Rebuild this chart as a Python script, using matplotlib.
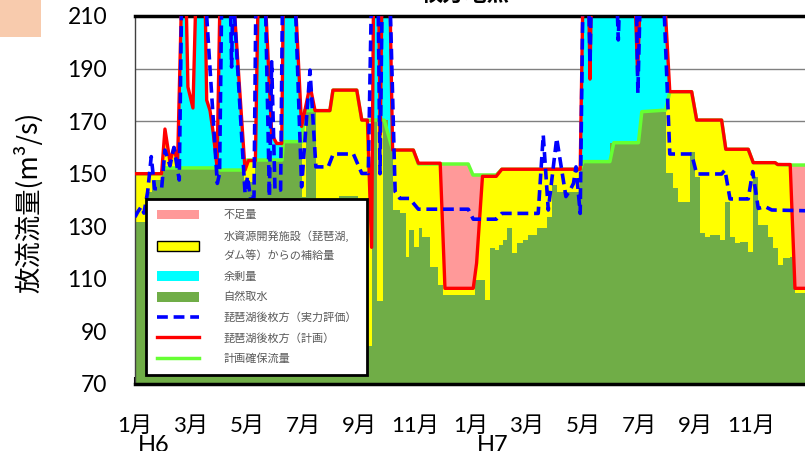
import numpy as np
import matplotlib.pyplot as plt
from matplotlib.patches import Patch, Rectangle
from matplotlib.lines import Line2D

plt.rcParams['font.family'] = ['Lato', 'Noto Sans CJK JP']

# x = months since 1 Jan H6
plan_x = [0, 0.95, 1.07, 1.25, 1.39, 1.52, 1.67, 1.82, 1.89, 2.07, 2.18, 2.5, 2.56, 2.68, 2.8, 2.93,
          3.04, 3.5, 3.93, 4.05, 4.3, 4.4, 4.64, 4.88, 5.06, 5.24, 5.3, 5.71, 5.95, 6.25, 6.43, 6.96,
          7.07, 7.92, 8.1, 8.3, 8.45, 8.52, 8.7, 8.76, 8.82, 9.1, 9.2, 9.94, 10.12, 10.9, 11.07,
          12.08, 12.2, 12.41, 12.9, 13.1, 15.9, 16.0, 16.2, 16.25, 16.3, 17.85, 17.95, 18.05, 18.9,
          19.1, 19.88, 20.06, 20.95, 21.1, 21.9, 22.08, 22.86, 22.95, 23.4, 23.57, 24]
plan_v = [150, 150, 167, 154.5, 160, 154, 220, 220, 183, 175, 220, 220, 178, 174, 165, 152.5,
          220, 220, 151.4, 155, 155, 220, 220, 165, 161.5, 161.5, 220, 220, 168, 183.5, 174, 174,
          181.8, 181.8, 170.4, 170.4, 122, 220, 220, 165, 220, 220, 159, 159, 154, 154, 106.4,
          106.4, 116, 149, 149, 151.7, 151.7, 220, 220, 186, 220, 220, 188, 220, 220,
          181.2, 181.2, 170.4, 170.4, 159.3, 159.3, 154.2, 154.2, 153.5, 153.5, 106.4, 106.4]

actual_x = [0, 0.1, 0.22, 0.32, 0.45, 0.58, 0.7, 0.95, 1.07, 1.25, 1.39, 1.58, 1.67, 2.5, 2.94, 3.02,
            3.1, 3.4, 3.45, 3.5, 3.93, 4.02, 4.12, 4.25, 4.32, 4.65, 4.8, 4.88, 5.0, 5.2, 5.27, 5.71,
            5.95, 6.25, 6.46, 6.9, 7.08, 7.8, 8.1, 8.33, 8.45, 8.68, 8.75, 8.83, 9.1, 9.29, 9.46, 9.8,
            10.12, 11.9, 12.08, 12.9, 13.1, 14.4, 14.58, 14.76, 15.06, 15.39, 15.55, 15.66, 15.75,
            15.9, 16.0, 16.2, 16.25, 16.3, 17.2, 17.26, 17.32, 17.9, 17.96, 18.05, 18.87, 19.1,
            19.88, 20.06, 20.95, 21.07, 21.25, 21.9, 22.06, 22.26, 22.5, 22.74, 24]
actual_v = [133.5, 135.5, 137.4, 135, 143, 156.5, 144.3, 144.3, 159, 153, 160, 147.6, 220, 220, 146.3, 150,
            220, 220, 190.6, 220, 142.6, 149, 141, 141, 220, 220, 141.3, 192.6, 143.8, 143.8, 220, 220,
            145, 189.4, 152.6, 152.6, 157.5, 157.5, 150.1, 150.1, 220, 220, 150, 220, 220, 143.2, 140.6, 140.6,
            136.5, 136.5, 132.7, 132.7, 134.9, 134.9, 164.7, 136.2, 163.5, 141.3, 144, 146.3, 152.6,
            134.9, 220, 220, 192, 220, 220, 200.9, 220, 220, 180.6, 220, 220, 157.5,
            157.5, 149.9, 149.9, 151.4, 140.4, 140.4, 150.8, 136.8, 137.5, 136.2, 135.9]

secured_x = [0, 0.95, 1.0, 3.0, 3.05, 3.9, 4.0, 5.25, 5.3, 5.96, 6.05, 6.43, 6.96, 7.07, 7.92, 8.1,
             8.9, 9.2, 9.94, 10.12, 11.9, 12.07, 12.9, 13.1, 15.9, 16.0, 16.96, 17.1, 17.98, 18.1,
             18.95, 19.1, 19.88, 20.06, 20.95, 21.1, 21.9, 22.08, 22.86, 22.95, 23.4, 24]
secured_v = [150, 150, 152.2, 152.2, 151.4, 151.4, 155.2, 155.2, 162.2, 162.2, 174, 174, 174, 181.8, 181.8, 170.4,
             170.4, 159, 159, 153.7, 153.7, 149.5, 149.5, 151.7, 151.7, 154.6, 154.6, 161.8, 161.8, 173.6,
             174.2, 181.2, 181.2, 170.4, 170.4, 159.3, 159.3, 154.2, 154.2, 153.5, 153.3, 153.3]

natural_x = [0, 0.43, 0.6, 0.95, 1.0, 3.0, 3.9, 4.05, 4.3, 5.3, 5.96, 6.1, 6.45, 7.3, 7.96, 8.1, 8.45,
             8.65, 8.85, 9.02, 9.12, 9.2, 9.46, 9.68, 9.8, 9.98, 10.15, 10.24, 10.54, 10.82, 11.0,
             12.14, 12.5, 12.68, 12.86, 13.0, 13.14, 13.3, 13.48, 13.66, 13.84, 14.04, 14.36, 14.71,
             14.89, 15.07, 15.9, 16.96, 18.05, 18.95, 19.2, 19.4, 19.82, 20.0, 20.18, 20.36, 20.54,
             20.89, 21.07, 21.25, 21.43, 21.61, 21.9, 22.08, 22.26, 22.6, 22.8, 22.95, 23.14, 23.38,
             23.57, 24]
natural_v = [131.5, 143, 147.6, 151.4, 152.2, 151.4, 147.5, 147, 155.2, 162.2, 141, 174, 139, 141.5, 97, 84.5, 170.4,
             101.5, 170.4, 165, 160, 136.2, 135, 118.4, 128.6, 122.2, 129.3, 126, 114.6, 107.7, 104,
             109.6, 102, 121.6, 121, 122.9, 124.8, 129.3, 119.7, 123.6, 124.8, 126.7, 129.3, 133.6,
             145.7, 143, 154.6, 161.8, 173.6, 150.1, 144.4, 139.4, 158.4, 148.9, 127.3, 126, 126.7,
             124.8, 139.4, 126, 123.6, 124.2, 120.3, 148.9, 130.5, 126, 121.6, 115.3, 117.9, 118.5,
             104.5, 104.5]

surplus_spans = [(1.6, 3.93), (4.3, 6.45), (8.45, 9.2), (15.95, 18.95)]
shortage_spans = [(10.9, 12.45), (23.4, 24.0)]

tick_months = [0, 2, 4, 6, 8, 10, 12, 14, 16, 18, 20, 22]
tick_labels = ['1月', '3月', '5月', '7月', '9月', '11月'] * 2
y_ticks = [70, 90, 110, 130, 150, 170, 190, 210]

fig = plt.figure(figsize=(8.05, 4.51), dpi=100)
ax = fig.add_axes([135 / 805, 1 - 384 / 451, 672 / 805, 368 / 451])

# common grid for the filled layers
edges = [e for span in surplus_spans + shortage_spans for e in span]
grid = np.union1d(np.union1d(plan_x, secured_x), edges)
p = np.interp(grid, plan_x, plan_v)
s = np.interp(grid, secured_x, secured_v)

ax.fill_between(plan_x, 70, plan_v, color='#FFFF00', lw=0, zorder=1)
for a, b in surplus_spans:
    m = (grid >= a) & (grid <= b) & (p > s)
    ax.fill_between(grid, s, p, where=m, interpolate=True, color='#00FFFF', lw=0, zorder=1.1)
for a, b in shortage_spans:
    m = (grid >= a) & (grid <= b) & (p < s)
    ax.fill_between(grid, p, s, where=m, interpolate=True, color='#FF9999', lw=0, zorder=1.2)
ax.fill_between(natural_x, 70, natural_v, step='post', color='#70AD47', lw=0, zorder=1.3)

ax.plot(secured_x, secured_v, color='#66FF33', lw=2.5, zorder=2)
ax.plot(plan_x, plan_v, color='#FF0000', lw=2.4, zorder=3)
ax.plot(actual_x, actual_v, color='#0000FF', lw=2.6, dashes=(3, 1.6), zorder=4)

ax.set_xlim(0, 24)
ax.set_ylim(70, 210)
ax.set_yticks(y_ticks)
ax.set_xticks(tick_months)
ax.set_xticklabels(tick_labels)
ax.tick_params(axis='y', length=0, pad=20, labelsize=16.5)
ax.tick_params(axis='x', direction='in', length=5, width=1.5, pad=23, labelsize=16)
ax.grid(axis='y', color='#808080', lw=1)
ax.set_axisbelow(True)
ax.spines['top'].set_linewidth(2.5)
ax.spines['bottom'].set_linewidth(2.5)
ax.spines['left'].set_linewidth(1)
ax.spines['left'].set_color('#404040')
ax.spines['right'].set_visible(False)

handles = [Patch(facecolor='#FF9999', edgecolor='none'),
           Patch(facecolor='#FFFF00', edgecolor='black', lw=1),
           Patch(facecolor='#00FFFF', edgecolor='none'),
           Patch(facecolor='#70AD47', edgecolor='none'),
           Line2D([], [], color='#0000FF', lw=2.6, dashes=(3, 1.6)),
           Line2D([], [], color='#FF0000', lw=2.4),
           Line2D([], [], color='#66FF33', lw=2.5)]
labels = ['不足量', '水資源開発施設（琵琶湖,\nダム等）からの補給量', '余剰量', '自然取水',
          '琵琶湖後枚方（実力評価）', '琵琶湖後枚方（計画）', '計画確保流量']
leg = ax.legend(handles, labels, loc='upper left', bbox_to_anchor=(146 / 805, 1 - 199 / 451),
                bbox_transform=fig.transFigure, borderaxespad=0, fontsize=8, labelcolor='#595959',
                handlelength=3.8, handleheight=1.0, handletextpad=2.2, labelspacing=0.88,
                borderpad=0.95, fancybox=False, framealpha=1, edgecolor='black')
leg.get_frame().set_linewidth(2)
for t in leg.get_texts():
    t.set_family('Noto Sans CJK JP')
    t.set_linespacing(2.0)

fig.text(28 / 805, 1 - 202 / 451, '放流流量(m³/s)', rotation=90, ha='center', va='center',
         fontsize=19, family='Noto Sans CJK JP')
fig.text(465 / 805, 1 - 5 / 451, '枚方地点', ha='center', va='bottom', fontsize=16, fontweight='bold')
fig.text(138 / 805, 1 - 435 / 451, 'H6', ha='left', va='top', fontsize=17)
fig.text(477 / 805, 1 - 435 / 451, 'H7', ha='left', va='top', fontsize=17)
fig.patches.append(Rectangle((0, 1 - 37 / 451), 41 / 805, 37 / 451, transform=fig.transFigure,
                             facecolor='#F8CBAD', edgecolor='none'))

fig.savefig('out.png', dpi=100)
